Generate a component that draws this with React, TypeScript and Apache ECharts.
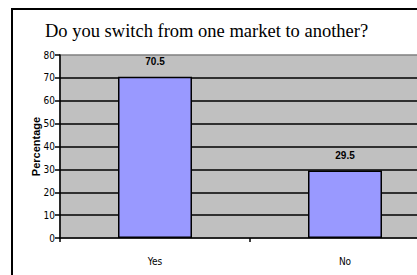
import React, { useEffect, useRef } from "react";
import * as echarts from "echarts";

const categories = ["Yes", "No"];
const values = [70.5, 29.5];
const titleText = "Do you switch from one market to another?";
const yAxisName = "Percentage";

export default function App() {
  const ref = useRef<HTMLDivElement>(null);
  useEffect(() => {
    if (!ref.current) return;
    const chart = echarts.init(ref.current, null, { renderer: "svg" });
    const narrow = "'Liberation Sans Narrow', 'DejaVu Sans Condensed', 'Arial Narrow', sans-serif";
    chart.setOption({
      animation: false,
      backgroundColor: "#ffffff",
      title: {
        text: titleText,
        left: 40,
        top: 16,
        textStyle: {
          fontFamily: "'Liberation Serif', 'Times New Roman', serif",
          fontSize: 18.5,
          fontWeight: "normal",
          color: "#000",
        },
      },
      graphic: [
        {
          type: "polyline",
          shape: { points: [[12, 275], [12, 9], [417, 9]] },
          style: { stroke: "#000", lineWidth: 2, fill: "none" },
          silent: true,
        },
      ],
      grid: {
        left: 60,
        top: 55,
        right: -11,
        bottom: 37,
        show: true,
        backgroundColor: "#c0c0c0",
        borderColor: "#808080",
        borderWidth: 1.5,
      },
      xAxis: {
        type: "category",
        data: categories,
        axisLine: { show: true, lineStyle: { color: "#000", width: 1.5 } },
        axisTick: { show: true, alignWithLabel: false, length: 4, lineStyle: { color: "#000", width: 1.5 } },
        axisLabel: { margin: 18, fontSize: 10, fontFamily: narrow, color: "#000" },
        splitLine: { show: false },
      },
      yAxis: {
        type: "value",
        min: 0,
        max: 80,
        interval: 10,
        name: yAxisName,
        nameLocation: "middle",
        nameGap: 19,
        nameMoveOverlap: false,
        nameRotate: 90,
        nameTextStyle: {
          fontFamily: "Arial, 'Liberation Sans', sans-serif",
          fontSize: 11,
          fontWeight: "bold",
          color: "#000",
        },
        axisLine: { show: true, lineStyle: { color: "#000", width: 1.5 } },
        axisTick: { show: true, inside: false, length: 5, lineStyle: { color: "#000", width: 1.5 } },
        axisLabel: { margin: 5, fontSize: 10, fontFamily: narrow, color: "#000" },
        splitLine: {
          show: true,
          showMinLine: false,
          showMaxLine: false,
          lineStyle: { color: "#000", width: 1.5 },
        },
      },
      series: [
        {
          type: "bar",
          data: values,
          barWidth: 74,
          itemStyle: { color: "#9999ff", borderColor: "#000", borderWidth: 1.5 },
          label: {
            show: true,
            position: "top",
            distance: 10,
            fontFamily: "Arial, 'Liberation Sans', sans-serif",
            fontSize: 10,
            fontWeight: "bold",
            color: "#000",
          },
        },
      ],
    });
    return () => chart.dispose();
  }, []);
  return (
    <div style={{ position: "fixed", left: 0, top: 0, width: 417, height: 275, overflow: "hidden" }}>
      <div ref={ref} style={{ width: 440, height: 275 }} />
    </div>
  );
}
